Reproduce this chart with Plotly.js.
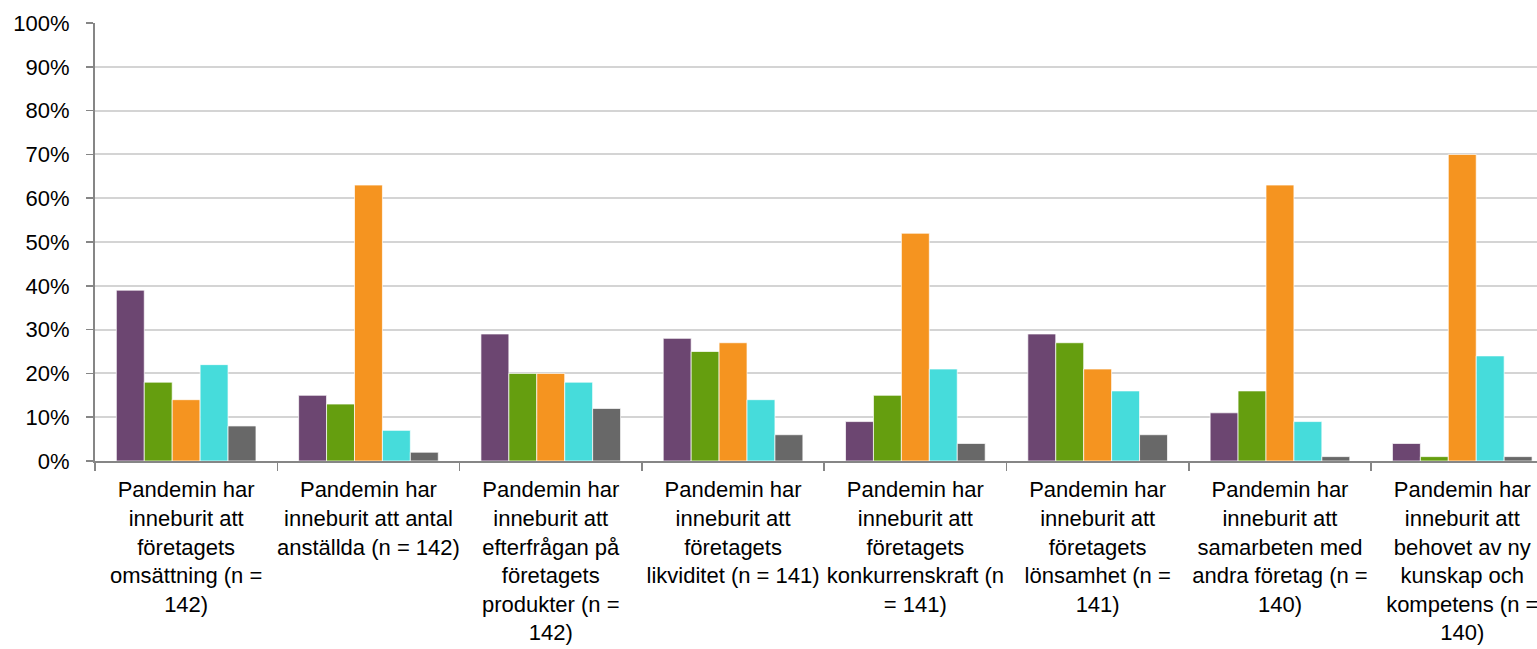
<!DOCTYPE html>
<html>
<head>
<meta charset="utf-8">
<script src="https://cdn.plot.ly/plotly-3.0.1.min.js"></script>
<style>
  html, body { margin: 0; padding: 0; background: #ffffff; }
  #chart { width: 1537px; height: 649px; }
</style>
</head>
<body>
<div id="chart"></div>
<script>
const categories = [
  "Pandemin har inneburit att företagets omsättning (n = 142)",
  "Pandemin har inneburit att antal anställda (n = 142)",
  "Pandemin har inneburit att efterfrågan på företagets produkter (n = 142)",
  "Pandemin har inneburit att företagets likviditet (n = 141)",
  "Pandemin har inneburit att företagets konkurrenskraft (n = 141)",
  "Pandemin har inneburit att företagets lönsamhet (n = 141)",
  "Pandemin har inneburit att samarbeten med andra företag (n = 140)",
  "Pandemin har inneburit att behovet av ny kunskap och kompetens (n = 140)"
];
const tickLabels = [
  "Pandemin har<br>inneburit att<br>företagets<br>omsättning (n =<br>142)",
  "Pandemin har<br>inneburit att antal<br>anställda (n = 142)",
  "Pandemin har<br>inneburit att<br>efterfrågan på<br>företagets<br>produkter (n =<br>142)",
  "Pandemin har<br>inneburit att<br>företagets<br>likviditet (n = 141)",
  "Pandemin har<br>inneburit att<br>företagets<br>konkurrenskraft (n<br>= 141)",
  "Pandemin har<br>inneburit att<br>företagets<br>lönsamhet (n =<br>141)",
  "Pandemin har<br>inneburit att<br>samarbeten med<br>andra företag (n =<br>140)",
  "Pandemin har<br>inneburit att<br>behovet av ny<br>kunskap och<br>kompetens (n =<br>140)"
];
const seriesNames = ["Serie 1", "Serie 2", "Serie 3", "Serie 4", "Serie 5"];
const series1 = [39, 15, 29, 28, 9, 29, 11, 4];
const series2 = [18, 13, 20, 25, 15, 27, 16, 1];
const series3 = [14, 63, 20, 27, 52, 21, 63, 70];
const series4 = [22, 7, 18, 14, 21, 16, 9, 24];
const series5 = [8, 2, 12, 6, 4, 6, 1, 1];
const yTickVals = [0, 10, 20, 30, 40, 50, 60, 70, 80, 90, 100];

const colors = ["#6C4671", "#659E0F", "#F59420", "#46DCDB", "#686868"];
const allSeries = [series1, series2, series3, series4, series5];

const traces = allSeries.map((vals, i) => ({
  type: "bar",
  name: seriesNames[i],
  x: categories,
  y: vals,
  marker: { color: colors[i], line: { color: "rgba(255,255,255,0.7)", width: 1 } },
  hoverinfo: "none"
}));

const layout = {
  width: 1537,
  height: 649,
  margin: { l: 95, r: 0, t: 23, b: 188 },
  paper_bgcolor: "#ffffff",
  plot_bgcolor: "#ffffff",
  barmode: "group",
  bargap: 0.234,
  bargroupgap: 0,
  showlegend: false,
  font: { family: "Liberation Sans, Arial, sans-serif", color: "#000000" },
  xaxis: {
    type: "category",
    range: [-0.5, 7.41],
    tickmode: "array",
    tickvals: categories,
    ticktext: tickLabels,
    tickson: "boundaries",
    ticks: "outside",
    ticklen: 8,
    tickwidth: 1.5,
    tickcolor: "#868686",
    showline: true,
    linecolor: "#868686",
    linewidth: 2,
    showgrid: false,
    tickangle: 0,
    ticklabelstandoff: 8,
    tickfont: { size: 22, family: "Liberation Sans, Arial, sans-serif", color: "#000000" },
    fixedrange: true
  },
  yaxis: {
    range: [0, 100],
    tickmode: "array",
    tickvals: yTickVals,
    ticktext: yTickVals.map(v => v + "%"),
    ticks: "outside",
    ticklen: 7,
    tickwidth: 1.5,
    tickcolor: "#868686",
    showline: true,
    linecolor: "#868686",
    linewidth: 2,
    showgrid: true,
    gridcolor: "#D4D4D4",
    gridwidth: 2,
    zeroline: false,
    ticklabelstandoff: 12,
    tickfont: { size: 22, family: "Liberation Sans, Arial, sans-serif", color: "#000000" },
    fixedrange: true
  }
};

Plotly.newPlot("chart", traces, layout, { displayModeBar: false, staticPlot: true });
</script>
</body>
</html>
